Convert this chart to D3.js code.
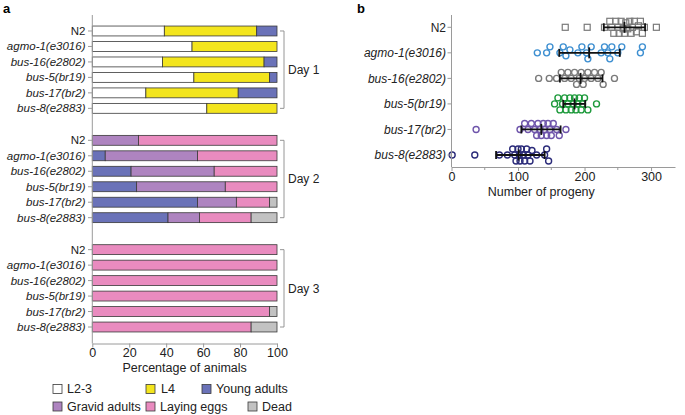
<!DOCTYPE html>
<html><head><meta charset="utf-8">
<script src="https://cdn.jsdelivr.net/npm/d3@7"></script>
<style>body{margin:0;background:#fff}svg{display:block;font-family:"Liberation Sans",Arial,sans-serif}</style>
</head><body><svg id="c" width="685" height="415"></svg>
<script>
// ---------- DATA ----------
const genotypes = ["N2","agmo-1(e3016)","bus-16(e2802)","bus-5(br19)","bus-17(br2)","bus-8(e2883)"];
const days = ["Day 1","Day 2","Day 3"];
const stages = ["L2-3","L4","Young adults","Gravid adults","Laying eggs","Dead"];
const stageColors = ["#ffffff","#f3e51d","#6a72b8","#ae84c0","#e98bbf","#c2c2c2"];
// percentages per stage for each genotype (order as genotypes)
const day1 = {
  "L2-3":         [39,54,38,55,29,62],
  "L4":           [50,46,55,41,50,38],
  "Young adults": [11, 0, 7, 4,21, 0],
  "Gravid adults":[0,0,0,0,0,0],
  "Laying eggs":  [0,0,0,0,0,0],
  "Dead":         [0,0,0,0,0,0]
};
const day2 = {
  "L2-3":         [0,0,0,0,0,0],
  "L4":           [0,0,0,0,0,0],
  "Young adults": [ 0, 7,21,24,57,41],
  "Gravid adults":[25,50,45,48,21,17],
  "Laying eggs":  [75,43,34,28,18,28],
  "Dead":         [ 0, 0, 0, 0, 4,14]
};
const day3 = {
  "L2-3":         [0,0,0,0,0,0],
  "L4":           [0,0,0,0,0,0],
  "Young adults": [0,0,0,0,0,0],
  "Gravid adults":[0,0,0,0,0,0],
  "Laying eggs":  [100,100,100,100,96,86],
  "Dead":         [  0,  0,  0,  0, 4,14]
};
const pctTicks = [0,20,40,60,80,100];

// panel b: progeny per animal
const progN2    = [171,204,230,238,241,244,247,250,252,255,258,260,262,265,268,270,272,275,278,281,284,287,290,308];
const progAgmo  = [129,143,148,163,168,172,178,190,196,203,205,210,225,230,235,238,241,250,256,284,287];
const progBus16 = [131,147,158,165,170,175,180,185,188,192,195,198,200,205,210,215,220,225,228,245];
const progBus5  = [155,160,163,167,170,172,175,178,180,183,185,187,190,192,195,197,200,205,218];
const progBus17 = [37,103,110,115,120,125,128,130,133,135,138,140,143,145,148,150,153,158,162,172];
const progBus8  = [1,35,72,84,92,95,97,100,102,103,105,108,110,113,115,118,121,128,140,143,146];
const progMean  = [260,207,194,185,135,101];
const progLow   = [229,162,163,168,105,67];
const progHigh  = [291,253,227,201,164,140];
const progColors = ["#7a7a7a","#3d8fd1","#7a7a7a","#1e9a3c","#6f55ab","#2c2c7a"];
const progTicks = [0,100,200,300];
const progMinor = [50,150,250];

// ---------- DRAW ----------
const svg = d3.select("#c");
const axisCol = "#9a9a9a";
const textCol = "#222";

// panel labels
svg.append("text").attr("x",3).attr("y",13).attr("font-size",13).attr("font-weight","bold").text("a");
svg.append("text").attr("x",357).attr("y",13).attr("font-size",13).attr("font-weight","bold").text("b");

// ----- panel a -----
const xA = d3.scaleLinear().domain([0,100]).range([92.3,277]);
const gY = d3.scaleBand().domain(days).range([15,343]).paddingInner(0.1).paddingOuter(0.05);
const rY = d3.scaleBand().domain(genotypes).range([0,gY.bandwidth()]).padding(0.36);
const dayData = [day1,day2,day3];
const gA = svg.append("g");

days.forEach((day,di)=>{
  const dd = dayData[di];
  const rows = genotypes.map((g,gi)=>{const o={g}; stages.forEach(s=>o[s]=dd[s][gi]); return o;});
  const stack = d3.stack().keys(stages)(rows);
  const g = gA.append("g").attr("transform",`translate(0,${gY(day)})`);
  stack.forEach((layer,li)=>{
    g.selectAll(null).data(layer.filter(d=>d[1]-d[0]>0)).join("rect")
      .attr("x",d=>xA(d[0])).attr("width",d=>xA(d[1])-xA(d[0]))
      .attr("y",d=>rY(d.data.g)).attr("height",rY.bandwidth())
      .attr("fill",stageColors[li]).attr("stroke","#3a3a3a").attr("stroke-width",0.8);
  });
  genotypes.forEach(gn=>{
    const yc = rY(gn)+rY.bandwidth()/2;
    g.append("line").attr("x1",88).attr("x2",92.3).attr("y1",yc).attr("y2",yc).attr("stroke",axisCol);
    g.append("text").attr("x",85.5).attr("y",yc).attr("dy","0.35em").attr("text-anchor","end")
      .attr("font-size",11.5).attr("fill",textCol).attr("font-style",gn==="N2"?"normal":"italic").text(gn);
  });
  const y1 = rY(genotypes[0])+rY.bandwidth()/2, y2 = rY(genotypes[5])+rY.bandwidth()/2;
  g.append("path").attr("d",`M280,${y1}H284V${y2}H280`).attr("fill","none").attr("stroke","#8a8a8a").attr("stroke-width",0.9);
  g.append("text").attr("x",288).attr("y",(y1+y2)/2).attr("dy","0.35em").attr("font-size",12).attr("fill",textCol).text(day);
});
gA.append("line").attr("x1",92.3).attr("x2",92.3).attr("y1",15).attr("y2",343.5).attr("stroke",axisCol);
const xAxisA = d3.axisBottom(xA).tickValues(pctTicks).tickSize(4).tickSizeOuter(0);
const axA = svg.append("g").attr("transform","translate(0,343.5)").call(xAxisA);
axA.select(".domain").attr("stroke",axisCol);
axA.selectAll(".tick line").attr("stroke",axisCol);
axA.selectAll(".tick text").attr("font-size",12.5).attr("fill",textCol).attr("font-family","Liberation Sans, Arial, sans-serif").attr("y",5).attr("dy","0.71em");
svg.append("text").attr("x",xA(50)).attr("y",372).attr("text-anchor","middle").attr("font-size",12.5).attr("fill",textCol).text("Percentage of animals");

// legend
const legendPos = [[53,389],[146,389],[202,389],[53,406.5],[146,406.5],[248,406.5]];
stages.forEach((s,i)=>{
  const [lx,ly] = legendPos[i];
  svg.append("rect").attr("x",lx).attr("y",ly-4.5).attr("width",9).attr("height",9)
    .attr("fill",stageColors[i]).attr("stroke","#3a3a3a").attr("stroke-width",0.8);
  svg.append("text").attr("x",lx+(i===1?15:14)).attr("y",ly).attr("dy","0.35em").attr("font-size",12.5).attr("fill",textCol).text(s);
});

// ----- panel b -----
const xB = d3.scaleLinear().domain([0,336]).range([451.5,675]);
const yB = d3.scalePoint().domain(genotypes).range([27.3,155]);
const gB = svg.append("g");
const progData = [progN2,progAgmo,progBus16,progBus5,progBus17,progBus8];

// deterministic beeswarm offsets
function swarm(vals, rad){
  const placed=[]; const out=[];
  const cands=[0,-3,3,-6,6,-4.5,4.5,-1.5,1.5];
  vals.forEach(v=>{
    const px=xB(v); let best=0, bestOv=Infinity;
    for(const c of cands){
      let ov=0;
      placed.forEach(p=>{const d=Math.hypot(p[0]-px,p[1]-c); if(d<2*rad) ov+=2*rad-d;});
      if(ov<bestOv-1e-9){bestOv=ov;best=c;}
      if(ov===0) break;
    }
    placed.push([px,best]); out.push({v,off:best});
  });
  return out;
}

genotypes.forEach((gn,gi)=>{
  const yc=yB(gn);
  const pts=swarm(progData[gi],3.1);
  if(gi===0){
    gB.selectAll(null).data(pts).join("rect")
      .attr("x",d=>xB(d.v)-3).attr("y",d=>yc+d.off-3).attr("width",6).attr("height",6)
      .attr("fill","none").attr("stroke",progColors[gi]).attr("stroke-width",1.2);
  } else {
    gB.selectAll(null).data(pts).join("circle")
      .attr("cx",d=>xB(d.v)).attr("cy",d=>yc+d.off).attr("r",3)
      .attr("fill","none").attr("stroke",progColors[gi]).attr("stroke-width",1.4);
  }
  gB.append("line").attr("x1",xB(progLow[gi])).attr("x2",xB(progHigh[gi])).attr("y1",yc).attr("y2",yc).attr("stroke","#111").attr("stroke-width",1.8);
  [progLow[gi],progHigh[gi]].forEach(v=>gB.append("line").attr("x1",xB(v)).attr("x2",xB(v)).attr("y1",yc-4).attr("y2",yc+4).attr("stroke","#111").attr("stroke-width",1.8));
  gB.append("line").attr("x1",xB(progMean[gi])).attr("x2",xB(progMean[gi])).attr("y1",yc-5.5).attr("y2",yc+5.5).attr("stroke","#111").attr("stroke-width",1.8);
  gB.append("line").attr("x1",447.5).attr("x2",451.5).attr("y1",yc).attr("y2",yc).attr("stroke",axisCol);
  gB.append("text").attr("x",446).attr("y",yc).attr("dy","0.35em").attr("text-anchor","end")
    .attr("font-size",12).attr("fill",textCol).attr("font-style",gn==="N2"?"normal":"italic").text(gn);
});
gB.append("line").attr("x1",451.5).attr("x2",451.5).attr("y1",15).attr("y2",167).attr("stroke",axisCol);
const axB = svg.append("g").attr("transform","translate(0,167)").call(d3.axisBottom(xB).tickValues(progTicks).tickSize(4).tickSizeOuter(0));
axB.select(".domain").attr("stroke",axisCol);
axB.selectAll(".tick line").attr("stroke",axisCol);
axB.selectAll(".tick text").attr("font-size",12.5).attr("fill",textCol).attr("font-family","Liberation Sans, Arial, sans-serif").attr("y",5).attr("dy","0.71em");
axB.selectAll(null).data(progMinor).join("line").attr("x1",d=>xB(d)).attr("x2",d=>xB(d)).attr("y1",0).attr("y2",3).attr("stroke",axisCol);
svg.append("text").attr("x",xB(135)).attr("y",196).attr("text-anchor","middle").attr("font-size",12.5).attr("fill",textCol).text("Number of progeny");
</script></body></html>
